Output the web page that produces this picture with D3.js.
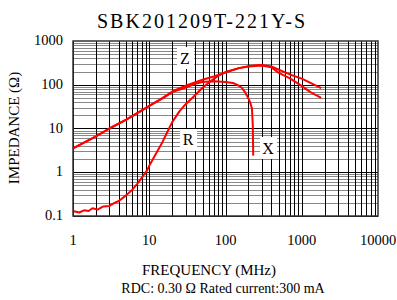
<!DOCTYPE html>
<html><head><meta charset="utf-8">
<script src="https://cdn.jsdelivr.net/npm/d3@7"></script>
<style>body{margin:0;background:#fff}svg{display:block}</style>
</head><body>
<svg id="c" width="397" height="300"></svg>
<script>
const title = "SBK201209T-221Y-S";
const xTicks = [1, 10, 100, 1000, 10000];
const yTicks = [0.1, 1, 10, 100, 1000];
const yTickLabels = ["0.1", "1", "10", "100", "1000"];

const zFreq = [1, 2, 3, 5, 8, 10, 15, 20, 30, 50, 70, 100, 150, 200, 250, 300, 400, 500, 700, 1000, 1300, 1800];
const zVals = [3.5, 6.6, 10, 16, 26, 33, 50, 70, 95, 130, 155, 190, 240, 265, 280, 282, 262, 220, 172, 138, 110, 84];

const rFreq = [1, 1.2, 1.4, 1.6, 1.8, 2.1, 2.5, 3, 3.5, 4, 5, 6, 7, 8, 9.35, 10, 12.6, 15, 17, 20, 25, 30, 37.5, 50, 62, 80, 100, 150, 200, 300, 400, 500, 700, 950, 1300, 1800];
const rVals = [0.13, 0.12, 0.135, 0.13, 0.15, 0.14, 0.165, 0.17, 0.2, 0.22, 0.3, 0.4, 0.55, 0.75, 1.1, 1.4, 2.9, 5, 7.9, 14, 25, 36, 52, 85, 116, 160, 195, 240, 262, 275, 250, 186, 140, 99, 68, 50];

const xFreq = [1, 2, 3, 5, 8, 10, 15, 20, 30, 40, 50, 70, 100, 125, 150, 165, 180, 196, 210, 222, 228, 231];
const xVals = [3.5, 6.6, 10, 16, 26, 33, 49, 68, 86, 105, 116, 120, 116, 110, 95, 84, 68, 52, 40, 29, 12, 2.4];

const curveLabels = ["Z", "R", "X"];
const labelFreq = [29.4, 32.2, 361];
const labelVal = [408, 5.46, 3.58];

const svg = d3.select("#c");
const L = 73, R = 378, T = 41, B = 216;
const x = d3.scaleLog().domain([1, 10000]).range([L, R]);
const y = d3.scaleLog().domain([0.1, 1000]).range([B, T]);

const serif = "'Liberation Serif', 'Times New Roman', serif";

// grid
const g = svg.append("g");
const minorX = [], minorY = [];
for (let d = 1; d < 10000; d *= 10) for (let k = 1; k <= 9; k++) minorX.push(d * k);
for (let d = 0.1; d < 999; d *= 10) for (let k = 1; k <= 9; k++) minorY.push(+(d * k).toPrecision(3));
g.selectAll(".hy").data(minorY).join("line")
  .attr("x1", L).attr("x2", R)
  .attr("y1", d => Math.round(y(d)) + 0.5).attr("y2", d => Math.round(y(d)) + 0.5)
  .attr("stroke", d => yTicks.includes(d) ? "#000" : "#888").attr("stroke-width", 1);
g.selectAll(".vx").data(minorX).join("line")
  .attr("y1", T).attr("y2", B)
  .attr("x1", d => Math.round(x(d)) + 0.5).attr("x2", d => Math.round(x(d)) + 0.5)
  .attr("stroke", "#000").attr("stroke-width", 1);

// curves
const line = d3.line().x(d => x(d[0])).y(d => y(d[1]));
const series = [d3.zip(zFreq, zVals), d3.zip(rFreq, rVals), d3.zip(xFreq, xVals)];
svg.selectAll(".curve").data(series).join("path")
  .attr("d", line).attr("fill", "none").attr("stroke", "#ff0000").attr("stroke-width", 2)
  .attr("stroke-linejoin", "round");

// frame
svg.append("rect").attr("x", L).attr("y", T).attr("width", R - L).attr("height", B - T)
  .attr("fill", "none").attr("stroke", "#333").attr("stroke-width", 1.5);

// curve labels
curveLabels.forEach((t, i) => {
  const cx = x(labelFreq[i]), cy = y(labelVal[i]);
  svg.append("rect").attr("x", cx - 8).attr("y", cy - 11).attr("width", 17).attr("height", 22).attr("fill", "#fff");
  svg.append("text").attr("x", cx).attr("y", cy + 5.5).attr("text-anchor", "middle")
    .attr("font-family", serif).attr("font-size", 16).text(t);
});

// title
svg.append("text").attr("x", 201).attr("y", 28).attr("text-anchor", "middle")
  .attr("font-family", serif).attr("font-size", 20).attr("textLength", 208).attr("lengthAdjust", "spacing").text(title);

// axes tick labels
svg.selectAll(".xt").data(xTicks).join("text")
  .attr("x", d => x(d)).attr("y", 245).attr("text-anchor", "middle")
  .attr("font-family", serif).attr("font-size", 14.5).text(d => String(d));
svg.selectAll(".yt").data(yTicks).join("text")
  .attr("x", 63).attr("y", d => y(d) + 4).attr("text-anchor", "end")
  .attr("font-family", serif).attr("font-size", 14.5).text((d, i) => yTickLabels[i]);

// axis titles
svg.append("text").attr("transform", "translate(19,128) rotate(-90)").attr("text-anchor", "middle")
  .attr("font-family", serif).attr("font-size", 15).text("IMPEDANCE (Ω)");
svg.append("text").attr("x", 209).attr("y", 275).attr("text-anchor", "middle")
  .attr("font-family", serif).attr("font-size", 15).text("FREQUENCY (MHz)");
svg.append("text").attr("x", 223).attr("y", 293).attr("text-anchor", "middle")
  .attr("font-family", serif).attr("font-size", 14).text("RDC: 0.30 Ω Rated current:300 mA");
</script>
</body></html>
